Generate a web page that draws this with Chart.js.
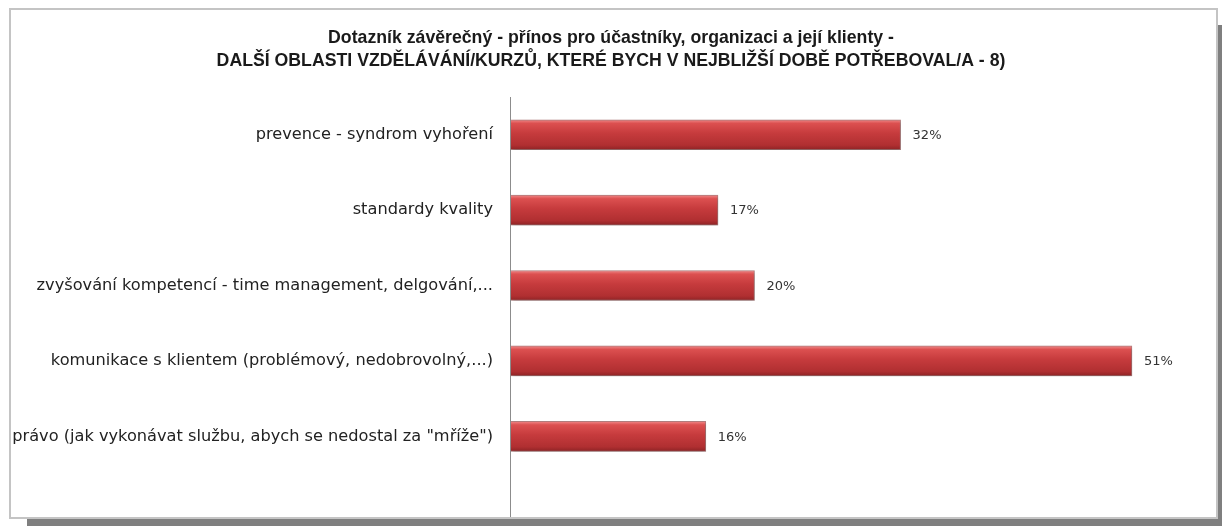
<!DOCTYPE html>
<html>
<head>
<meta charset="utf-8">
<script src="https://cdn.jsdelivr.net/npm/chart.js@4/dist/chart.umd.min.js"></script>
<style>
  html, body { margin: 0; padding: 0; background: #ffffff; }
  #wrap { width: 1222px; height: 526px; position: relative; }
</style>
</head>
<body>
<div id="wrap"><canvas id="c" width="1222" height="526"></canvas></div>
<script>
const titleLines = [
  'Dotazník závěrečný - přínos pro účastníky, organizaci a její klienty -',
  'DALŠÍ OBLASTI VZDĚLÁVÁNÍ/KURZŮ, KTERÉ BYCH V NEJBLIŽŠÍ DOBĚ POTŘEBOVAL/A - 8)'
];
const categories = [
  'prevence - syndrom vyhoření',
  'standardy kvality',
  'zvyšování kompetencí - time management, delgování,...',
  'komunikace s klientem (problémový, nedobrovolný,...)',
  'právo (jak vykonávat službu, abych se nedostal za "mříže")'
];
const values = [0.32, 0.17, 0.20, 0.51, 0.16];
const valueLabels = ['32%', '17%', '20%', '51%', '16%'];

const BAR_T = 30;

const framePlugin = {
  id: 'frame',
  beforeDraw(chart) {
    const c = chart.ctx;
    c.save();
    c.fillStyle = '#ffffff';
    c.fillRect(0, 0, chart.width, chart.height);
    // shadow
    c.fillStyle = '#7f7f7f';
    c.fillRect(27, 518, 1195, 8);
    c.fillRect(1217, 25, 5, 501);
    // box
    c.fillStyle = '#ffffff';
    c.fillRect(10, 9, 1207, 509);
    c.strokeStyle = '#c4c4c4';
    c.lineWidth = 2;
    c.strokeRect(10, 9, 1207, 509);
    c.restore();
  },
  beforeDatasetsDraw(chart) {
    const c = chart.ctx;
    const x0 = chart.scales.x.getPixelForValue(0);
    c.save();
    c.strokeStyle = '#8c8c8c';
    c.lineWidth = 1;
    c.beginPath();
    c.moveTo(Math.round(x0) - 0.5, chart.chartArea.top);
    c.lineTo(Math.round(x0) - 0.5, 517);
    c.stroke();
    c.shadowColor = 'rgba(0,0,0,0.28)';
    c.shadowBlur = 4;
    c.shadowOffsetX = 1;
    c.shadowOffsetY = 2;
  },
  afterDatasetsDraw(chart) {
    const c = chart.ctx;
    c.restore();
    c.save();
    c.font = '13px "DejaVu Sans", Verdana, sans-serif';
    c.fillStyle = '#333333';
    c.textAlign = 'left';
    c.textBaseline = 'middle';
    const meta = chart.getDatasetMeta(0);
    meta.data.forEach((el, i) => {
      c.fillText(valueLabels[i], el.x + 12, el.y + 1);
    });
    c.restore();
  }
};

function barGradient(ctx) {
  const chart = ctx.chart;
  if (!chart.chartArea || !chart.scales.y) return '#c0393b';
  const yc = chart.scales.y.getPixelForValue(ctx.dataIndex);
  const g = chart.ctx.createLinearGradient(0, yc - BAR_T / 2, 0, yc + BAR_T / 2);
  g.addColorStop(0, '#f08a8a');
  g.addColorStop(0.12, '#dc5050');
  g.addColorStop(0.45, '#c63b3d');
  g.addColorStop(0.85, '#b02f31');
  g.addColorStop(1, '#8e2325');
  return g;
}

new Chart(document.getElementById('c'), {
  type: 'bar',
  data: {
    labels: categories,
    datasets: [{
      data: values,
      backgroundColor: barGradient,
      borderColor: 'rgba(130,30,30,0.55)',
      borderWidth: 1,
      barThickness: BAR_T
    }]
  },
  plugins: [framePlugin],
  options: {
    indexAxis: 'y',
    responsive: false,
    animation: false,
    devicePixelRatio: 1,
    layout: { padding: { left: 0, right: 0, top: 0, bottom: 52 } },
    plugins: {
      legend: { display: false },
      tooltip: { enabled: false },
      title: {
        display: true,
        text: titleLines,
        color: '#1a1a1a',
        font: { family: '"Liberation Sans", Arial, sans-serif', size: 17.7, weight: 'bold', lineHeight: 1.3 },
        padding: { top: 27, bottom: 24 }
      }
    },
    scales: {
      x: {
        display: false,
        min: 0,
        max: 0.584
      },
      y: {
        grid: { display: false, drawTicks: false },
        border: { display: false },
        afterFit(scale) { scale.width = 511; },
        ticks: {
          padding: 18,
          color: '#222222',
          font: { family: '"DejaVu Sans", Verdana, sans-serif', size: 16.2 }
        }
      }
    }
  }
});
</script>
</body>
</html>
